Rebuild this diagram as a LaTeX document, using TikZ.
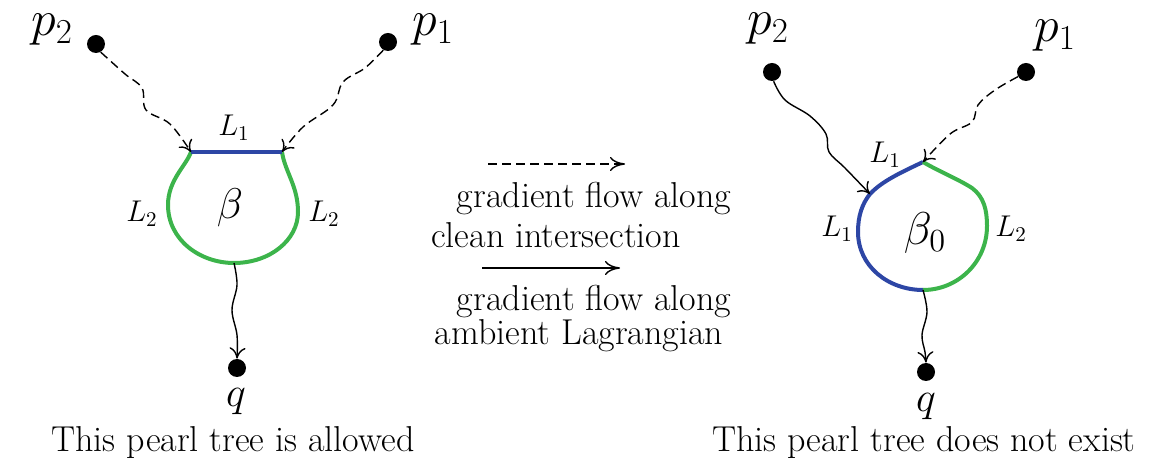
\RequirePackage{fix-cm}
\documentclass[tikz,border=0pt]{standalone}
\usetikzlibrary{arrows.meta}
\definecolor{pgreen}{RGB}{60,180,75}
\definecolor{pblue}{RGB}{45,70,165}
\tikzset{
  dot/.style={circle,fill=black,inner sep=0pt,minimum size=9pt},
  flow/.style={line width=0.7pt,-{To[length=5.5pt,width=8pt]}},
  dflow/.style={flow,dash pattern=on 4.5pt off 2.5pt},
  bigflow/.style={line width=0.7pt,-{To[length=7.5pt,width=7pt]}},
  bnd/.style={line width=2pt},
  biglab/.style={inner sep=0pt,font=\fontsize{25}{30}\selectfont},
  qlab/.style={inner sep=0pt,font=\fontsize{21}{25}\selectfont},
  llab/.style={inner sep=0pt,font=\fontsize{15}{18}\selectfont},
  txt/.style={inner sep=0pt,font=\fontsize{18}{22}\selectfont},
}
\begin{document}
\begin{tikzpicture}[x=0.5pt,y=-0.5pt]
\useasboundingbox (0,0) rectangle (1152,459);
% ---------------- left diagram ----------------
\node[dot] (p2L) at (96,44) {};
\node[dot] (p1L) at (388,42) {};
\node[dot] (qL) at (237,368) {};
\node[biglab] (p2Llab) at (52,30) {$p_2$};
\node[biglab] (p1Llab) at (433,30) {$p_1$};
\node[qlab] (qLlab) at (236,402) {$q$};
\coordinate (LaL) at (191,152);
\coordinate (LbL) at (282,152);
\coordinate (botL) at (234,263);
\draw[bnd,pgreen] (LaL) .. controls (186,166) and (168,180) .. (168,205)
  .. controls (168,240) and (200,263) .. (botL)
  .. controls (270,263) and (298,240) .. (298,212)
  .. controls (298,186) and (285,172) .. (LbL);
\draw[bnd,pblue] (LaL) -- (LbL);
\node[llab] (L1L) at (234,128) {$L_1$};
\node[llab] (L2La) at (142,214) {$L_2$};
\node[llab] (L2Lb) at (324,214) {$L_2$};
\node[inner sep=0pt,font=\fontsize{21.5}{26}\selectfont] (betaL) at (230,208) {$\beta$};
\draw[dflow] plot[smooth,tension=0.6] coordinates {(p2L.-60) (125,74) (142,88) (146,110) (170,124) (LaL)};
\draw[dflow] plot[smooth,tension=0.6] coordinates {(p1L.-120) (365,68) (343,82) (333,105) (303,127) (LbL)};
\draw[flow] plot[smooth,tension=0.6] coordinates {(botL) (237,285) (232,310) (237,335) (qL.north)};
\node[txt] (capL) at (233,443) {This pearl tree is allowed};
% ---------------- middle legend ----------------
\coordinate (da) at (488,164);
\coordinate (db) at (625,164);
\coordinate (sa) at (482,268);
\coordinate (sb) at (620,268);
\draw[bigflow,dash pattern=on 4.5pt off 2.5pt] (da) -- (db);
\draw[bigflow] (sa) -- (sb);
\node[txt] (t1) at (594,199) {gradient flow along};
\node[txt] (t2) at (556,235) {clean intersection};
\node[txt] (t3) at (594,302) {gradient flow along};
\node[txt] (t4) at (579,336) {ambient Lagrangian};
% ---------------- right diagram ----------------
\node[dot] (p2R) at (772,72) {};
\node[dot] (p1R) at (1026,72) {};
\node[dot] (qR) at (926,372) {};
\node[biglab] (p2Rlab) at (768,29) {$p_2$};
\node[biglab] (p1Rlab) at (1055,36) {$p_1$};
\node[qlab] (qRlab) at (926,407) {$q$};
\coordinate (topR) at (923,162);
\coordinate (botR) at (923,290);
\coordinate (hitR) at (870,194);
\draw[bnd,pblue] (topR) .. controls (902,172) and (882,181) .. (hitR)
  .. controls (862,204) and (858,216) .. (858,232)
  .. controls (858,266) and (888,290) .. (botR);
\draw[bnd,pgreen] (topR) .. controls (940,172) and (958,179) .. (972,188)
  .. controls (984,197) and (987,210) .. (987,226)
  .. controls (987,262) and (958,290) .. (botR);
\node[llab] (L1Ra) at (885,155) {$L_1$};
\node[llab] (L1Rb) at (837,229) {$L_1$};
\node[llab] (L2R) at (1011,229) {$L_2$};
\node[inner sep=0pt,font=\fontsize{23}{28}\selectfont] (betaR) at (925,233) {$\beta_0$};
\draw[flow] plot[smooth,tension=0.6] coordinates {(p2R.-80) (785,100) (810,116) (826,134) (829,152) (845,168) (hitR)};
\draw[dflow] plot[smooth,tension=0.6] coordinates {(p1R.-150) (995,90) (978,105) (972,122) (950,134) (topR)};
\draw[flow] plot[smooth,tension=0.6] coordinates {(botR) (927,312) (922,335) (925,352) (qR.north)};
\node[txt] (capR) at (924,443) {This pearl tree does not exist};
\end{tikzpicture}
\end{document}
